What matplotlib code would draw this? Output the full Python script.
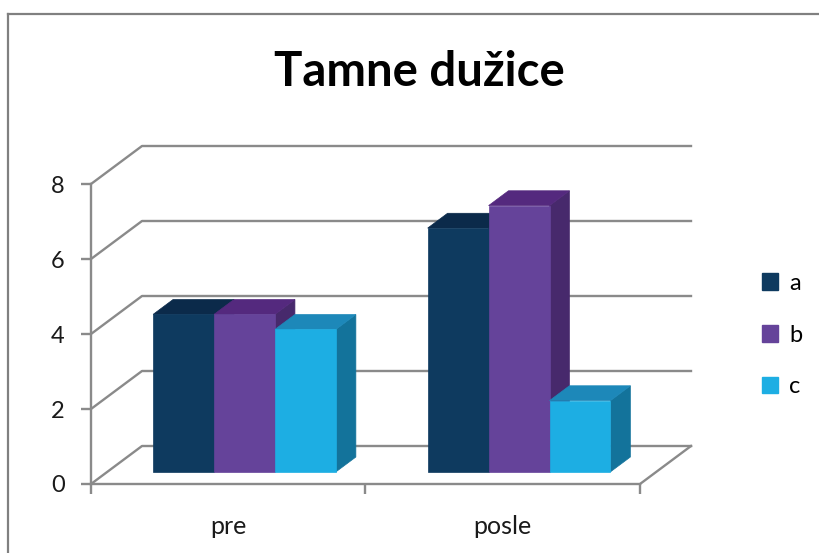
import matplotlib
matplotlib.use("Agg")
import matplotlib.pyplot as plt
from matplotlib.patches import Polygon, Patch

plt.rcParams['font.family'] = ['Lato', 'DejaVu Sans']

# data
categories = ["pre", "posle"]
series = ["a", "b", "c"]
values = {
    "a": [4.2, 6.5],
    "b": [4.2, 7.1],
    "c": [3.8, 1.9],
}
y_ticks = [0, 2, 4, 6, 8]

# colours per series: front, top, side
face_colors = {
    "a": ("#0E3A5F", "#0B2A4A", "#0A2B47"),
    "b": ("#65439A", "#54297E", "#47296C"),
    "c": ("#1DAEE3", "#1D88B9", "#13739B"),
}
grid_gray = "#8A8A8A"

W, H = 820, 553
fig = plt.figure(figsize=(W / 100, H / 100), dpi=100)

# front plane of the 3d box
left, right, bottom, top = 91, 640, 484, 184
ax = fig.add_axes([left / W, 1 - bottom / H, (right - left) / W, (bottom - top) / H])
ax.set_xlim(0, len(categories))
ax.set_ylim(0, 8)
ax.patch.set_visible(False)

# oblique depth offset, in data units
DX = 51 / ((right - left) / len(categories))
DY = 38 / ((bottom - top) / 8)

# back/side walls gridlines
for v in y_ticks:
    ax.plot([0, DX, len(categories) + DX], [v, v + DY, v + DY],
            color=grid_gray, lw=1.7, clip_on=False, zorder=1)
# floor right edge
ax.plot([len(categories), len(categories) + DX], [0, DY],
        color=grid_gray, lw=1.7, clip_on=False, zorder=1)

# bars
bw = 0.222
gap = (1 - len(series) * bw) / 2
d0, d1 = 0.32, 0.71
z = 3
for i, cat in enumerate(categories):
    for j, s in enumerate(series):
        h = values[s][i]
        front, topc, side = face_colors[s]
        x0 = i + gap + j * bw + d0 * DX
        x1 = x0 + bw
        y0 = d0 * DY
        ddx = (d1 - d0) * DX
        ddy = (d1 - d0) * DY
        side_poly = [(x1, y0), (x1 + ddx, y0 + ddy), (x1 + ddx, y0 + ddy + h), (x1, y0 + h)]
        top_poly = [(x0, y0 + h), (x1, y0 + h), (x1 + ddx, y0 + ddy + h), (x0 + ddx, y0 + ddy + h)]
        front_poly = [(x0, y0), (x1, y0), (x1, y0 + h), (x0, y0 + h)]
        for poly, col in ((side_poly, side), (top_poly, topc), (front_poly, front)):
            ax.add_patch(Polygon(poly, closed=True, facecolor=col, edgecolor=col,
                                 lw=0.5, clip_on=False, zorder=z))
            z += 0.01

# axes styling
for sp in ("top", "right"):
    ax.spines[sp].set_visible(False)
for sp in ("left", "bottom"):
    ax.spines[sp].set_color(grid_gray)
    ax.spines[sp].set_linewidth(1.7)
    ax.spines[sp].set_zorder(2)

ax.set_yticks(y_ticks)
ax.set_yticklabels([str(v) for v in y_ticks])
ax.tick_params(axis="y", length=7, width=1.7, color=grid_gray,
               labelsize=17, pad=12, labelcolor="#1a1a1a")

ax.set_xticks(range(len(categories) + 1))
ax.set_xticklabels([])
ax.set_xticks([i + 0.5 for i in range(len(categories))], minor=True)
ax.set_xticklabels(categories, minor=True)
ax.tick_params(axis="x", which="major", length=7, width=1.7, color=grid_gray)
ax.tick_params(axis="x", which="minor", length=0, labelsize=18, pad=22,
               labelcolor="#1a1a1a")

# title
fig.text(419 / W, 1 - 86 / H, "Tamne dužice", ha="center", va="baseline",
         fontsize=34, fontweight="bold", color="black")

# legend
handles = [Patch(facecolor=face_colors[s][0], edgecolor=face_colors[s][0]) for s in series]
fig.legend(handles, series, loc="center left", bbox_to_anchor=(750 / W, 1 - 335 / H),
           frameon=False, fontsize=17, handlelength=0.7, handleheight=0.7,
           handletextpad=0.45, labelspacing=1.3, borderpad=0)

# chart frame
fig.add_artist(plt.Line2D([8 / W, 8 / W], [0, 1 - 14 / H], transform=fig.transFigure,
                          color="#808080", lw=1.6))
fig.add_artist(plt.Line2D([8 / W, 1], [1 - 14 / H, 1 - 14 / H], transform=fig.transFigure,
                          color="#808080", lw=1.6))

fig.savefig("out.png", dpi=100, facecolor="white")
